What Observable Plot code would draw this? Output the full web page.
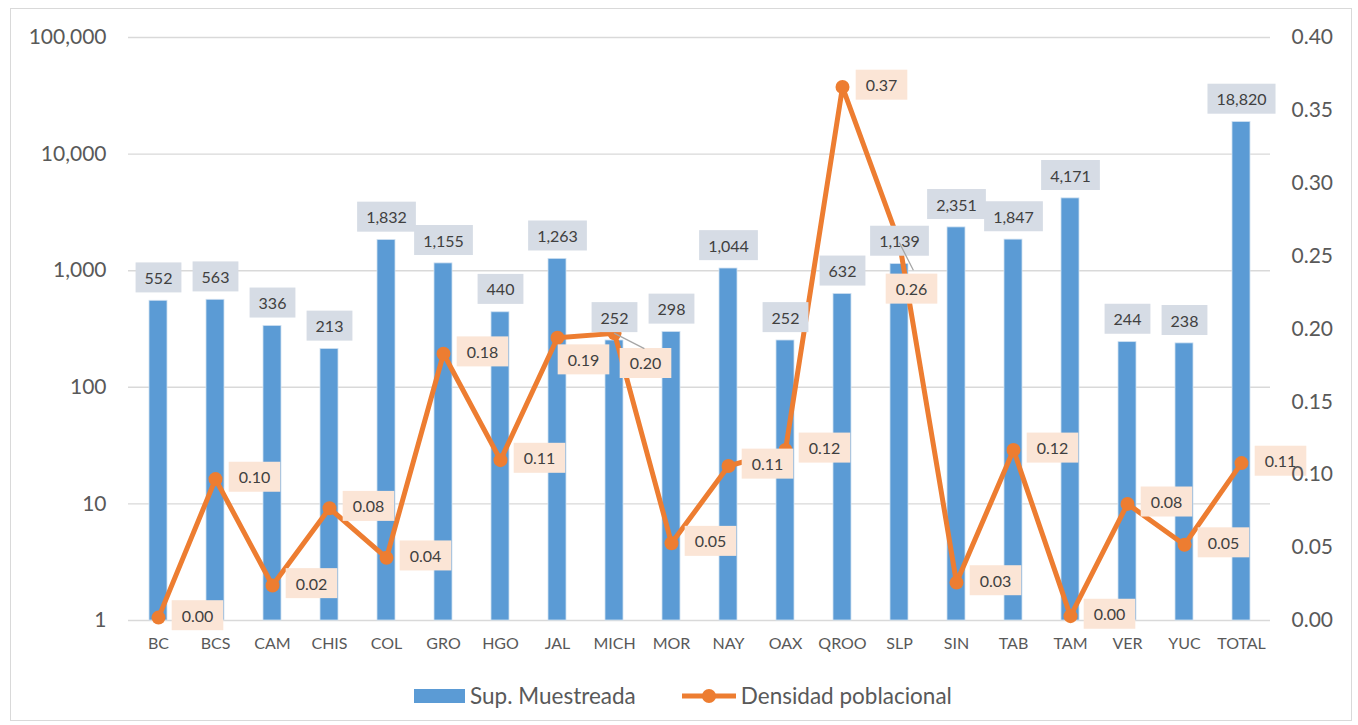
<!DOCTYPE html>
<html>
<head>
<meta charset="utf-8">
<script src="https://cdn.jsdelivr.net/npm/d3@7"></script>
<script src="https://cdn.jsdelivr.net/npm/@observablehq/plot@0.6"></script>
<style>
  html, body { margin: 0; padding: 0; background: #fff; }
  body { width: 1358px; height: 725px; position: relative; overflow: hidden; font-family: Lato, "Noto Sans", sans-serif; }
  #frame { position: absolute; left: 10px; top: 8px; width: 1342px; height: 713px; border: 1px solid #d9d9d9; box-sizing: border-box; }
  #chart { position: absolute; left: 0; top: 0; }
  #legend { position: absolute; left: 0; width: 100%; top: 673px; display: flex; justify-content: center; align-items: center; font-size: 22.5px; color: #595959; }
  .item { display: flex; align-items: center; }
</style>
</head>
<body>
<div id="frame">
  <div id="chart"></div>
  <div id="legend">
    <div class="item" style="margin-left:4px"><svg width="51" height="14" style="margin-right:5px"><rect width="51" height="14" fill="#5B9BD5"/></svg><span>Sup. Muestreada</span></div>
    <div class="item" style="margin-left:45px"><svg width="56" height="20" style="margin-right:4px"><line x1="1" y1="10" x2="55" y2="10" stroke="#ED7D31" stroke-width="5"/><circle cx="28" cy="10" r="7" fill="#ED7D31"/></svg><span>Densidad poblacional</span></div>
  </div>
</div>
<script>
// ---- data ----
const categories = ["BC","BCS","CAM","CHIS","COL","GRO","HGO","JAL","MICH","MOR","NAY","OAX","QROO","SLP","SIN","TAB","TAM","VER","YUC","TOTAL"];
const supMuestreada = [552,563,336,213,1832,1155,440,1263,252,298,1044,252,632,1139,2351,1847,4171,244,238,18820];
const densidadPoblacional = [0.002,0.097,0.024,0.077,0.043,0.183,0.110,0.194,0.197,0.053,0.106,0.117,0.366,0.259,0.026,0.117,0.003,0.080,0.052,0.108];
const leftTicks = [1,10,100,1000,10000,100000];
const rightTicks = [0,0.05,0.10,0.15,0.20,0.25,0.30,0.35,0.40];

// ---- helpers ----
const RIGHT_MAX = 0.40, DECADES = 5;
const toY = v => Math.pow(10, v / RIGHT_MAX * DECADES);      // secondary -> primary log scale

const data = categories.map((c, i) => ({cat: c, sup: supMuestreada[i], dens: densidadPoblacional[i]}));

// label placements for line labels (style, not data)
const special = {
  JAL:  {dx: 26, dy: 23},
  MICH: {dx: 31, dy: 31, leader: {len: 33, rot: 117}},
  SLP:  {dx: 12, dy: 47, leader: {len: 30, rot: 153}}
};
const BLUE = "#5B9BD5", ORANGE = "#ED7D31", TXT = "#404040", AX = "#595959";

const lineLabelMarks = [
  Plot.text(data.filter(d => !special[d.cat]), {x: "cat", y: d => toY(d.dens), text: d => d.dens.toFixed(2), dx: 39, dy: -1, fill: TXT, fontSize: 16, ariaDescription: "linelabel"}),
  ...Object.entries(special).map(([k, s]) =>
    Plot.text(data.filter(d => d.cat === k), {x: "cat", y: d => toY(d.dens), text: d => d.dens.toFixed(2), dx: s.dx, dy: s.dy, fill: TXT, fontSize: 16, ariaDescription: "linelabel"}))
];
const leaderMarks = Object.entries(special).filter(([k, s]) => s.leader).map(([k, s]) =>
  Plot.vector(data.filter(d => d.cat === k), {x: "cat", y: d => toY(d.dens), length: s.leader.len, rotate: s.leader.rot, anchor: "start", stroke: "#a6a6a6", strokeWidth: 1.3,
    shape: {draw(ctx, l) { ctx.moveTo(0, 0); ctx.lineTo(0, -l); }}}));

const chart = Plot.plot({
  width: 1340,
  height: 650,
  marginLeft: 117,
  marginRight: 81,
  marginTop: 28,
  marginBottom: 39,
  style: {fontFamily: "Lato, 'Noto Sans', sans-serif", background: "transparent"},
  x: {type: "band", domain: categories, paddingInner: 0.685, paddingOuter: 0.34, axis: null},
  y: {type: "log", domain: [1, 100000], axis: null},
  marks: [
    Plot.gridY(leftTicks, {stroke: "#d9d9d9", strokeOpacity: 1, strokeWidth: 1.4}),
    Plot.barY(data, {x: "cat", y1: 1, y2: "sup", fill: BLUE, stroke: "#cfe0f1", strokeWidth: 0.8}),
    Plot.line(data, {x: "cat", y: d => toY(d.dens), stroke: ORANGE, strokeWidth: 5, strokeLinejoin: "round"}),
    Plot.dot(data, {x: "cat", y: d => toY(d.dens), r: 7, fill: ORANGE, stroke: null}),
    ...lineLabelMarks,
    Plot.text(data, {x: "cat", y: "sup", text: d => d3.format(",")(d.sup), dy: -22, fill: TXT, fontSize: 16, ariaDescription: "barlabel"}),
    ...leaderMarks,
    Plot.axisX({tickSize: 0, tickPadding: 17, fontSize: 16, color: AX, label: null}),
    Plot.axisY(leftTicks, {anchor: "left", tickSize: 0, tickPadding: 22, fontSize: 21, color: AX, tickFormat: d3.format(","), label: null}),
    // secondary (right) axis: density ticks placed through the primary scale
    Plot.text(rightTicks, {y: d => toY(d), text: d => d.toFixed(2), frameAnchor: "right", textAnchor: "start", dx: 21, fontSize: 21, fill: AX})
  ]
});
document.getElementById("chart").appendChild(chart);

// label background boxes
function boxes(desc, fill, padX, h) {
  chart.querySelectorAll(`g[aria-description="${desc}"]`).forEach(g => {
    g.querySelectorAll("text").forEach(t => {
      const b = t.getBBox();
      const cy = b.y + b.height / 2;
      const r = document.createElementNS("http://www.w3.org/2000/svg", "rect");
      r.setAttribute("x", b.x - padX);
      r.setAttribute("y", cy - h / 2);
      r.setAttribute("width", b.width + 2 * padX);
      r.setAttribute("height", h);
      r.setAttribute("fill", fill);
      if (t.getAttribute("transform")) r.setAttribute("transform", t.getAttribute("transform"));
      g.insertBefore(r, t);
    });
  });
}
boxes("linelabel", "#FBE5D6", 10, 30);
boxes("barlabel", "#D6DCE5", 9, 30);
// leaders on top of label boxes
chart.querySelectorAll('g[aria-label="vector"]').forEach(g => chart.appendChild(g));
</script>
</body>
</html>
